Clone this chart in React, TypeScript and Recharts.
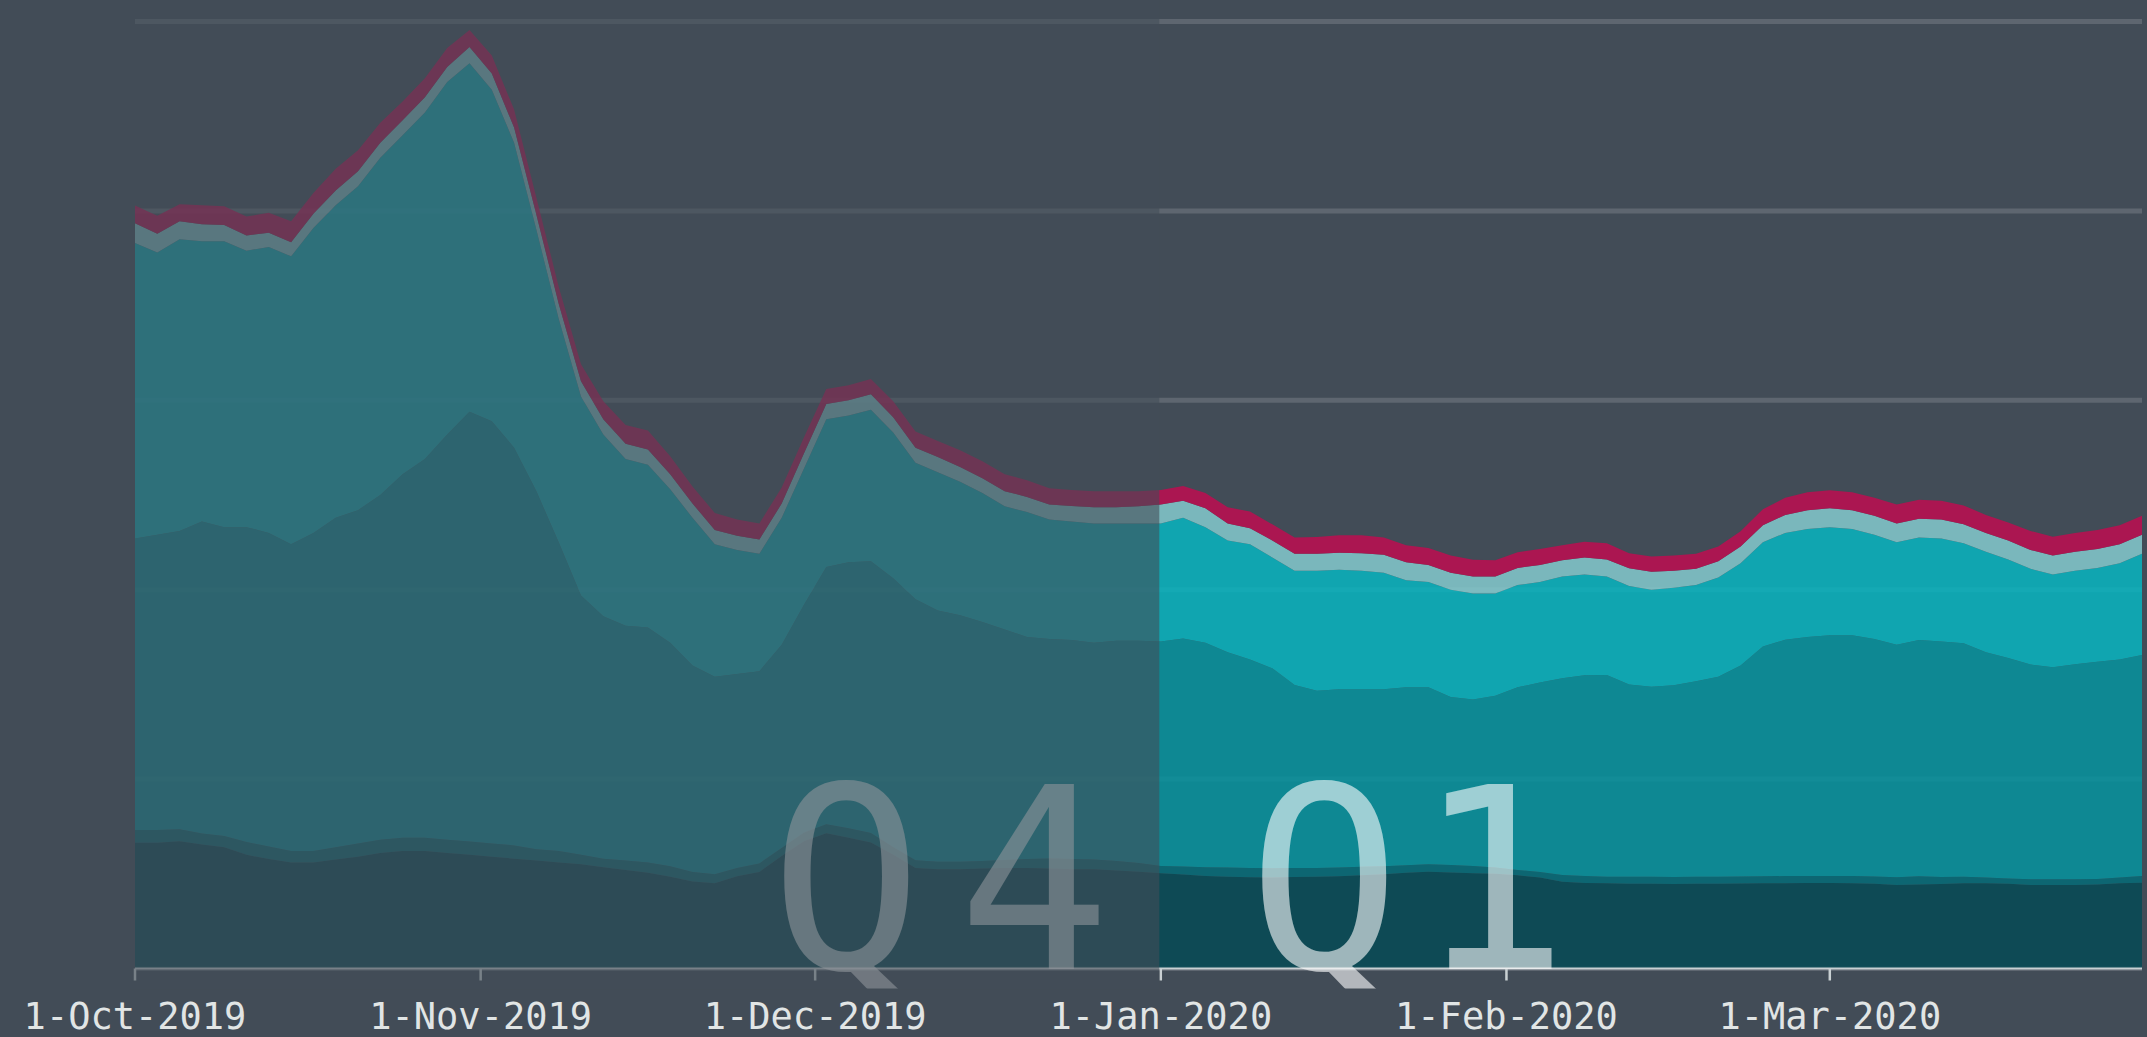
import { AreaChart, Area, XAxis, YAxis, CartesianGrid } from 'recharts';

// sample dates (every second day, 1-Oct-2019 .. 29-Mar-2020)
const dates = [
    '2019-10-01', '2019-10-03', '2019-10-05', '2019-10-07', '2019-10-09', '2019-10-11', '2019-10-13', '2019-10-15',
    '2019-10-17', '2019-10-19', '2019-10-21', '2019-10-23', '2019-10-25', '2019-10-27', '2019-10-29', '2019-10-31',
    '2019-11-02', '2019-11-04', '2019-11-06', '2019-11-08', '2019-11-10', '2019-11-12', '2019-11-14', '2019-11-16',
    '2019-11-18', '2019-11-20', '2019-11-22', '2019-11-24', '2019-11-26', '2019-11-28', '2019-11-30',
    '2019-12-02', '2019-12-04', '2019-12-06', '2019-12-08', '2019-12-10', '2019-12-12', '2019-12-14', '2019-12-16',
    '2019-12-18', '2019-12-20', '2019-12-22', '2019-12-24', '2019-12-26', '2019-12-28', '2019-12-30',
    '2020-01-01', '2020-01-03', '2020-01-05', '2020-01-07', '2020-01-09', '2020-01-11', '2020-01-13', '2020-01-15',
    '2020-01-17', '2020-01-19', '2020-01-21', '2020-01-23', '2020-01-25', '2020-01-27', '2020-01-29', '2020-01-31',
    '2020-02-02', '2020-02-04', '2020-02-06', '2020-02-08', '2020-02-10', '2020-02-12', '2020-02-14', '2020-02-16',
    '2020-02-18', '2020-02-20', '2020-02-22', '2020-02-24', '2020-02-26', '2020-02-28',
    '2020-03-01', '2020-03-03', '2020-03-05', '2020-03-07', '2020-03-09', '2020-03-11', '2020-03-13', '2020-03-15',
    '2020-03-17', '2020-03-19', '2020-03-21', '2020-03-23', '2020-03-25', '2020-03-27', '2020-03-29',
];

// stacked layers, bottom to top
const layerA = [
    0.664, 0.664, 0.672, 0.655, 0.64, 0.6, 0.578, 0.56, 0.56, 0.575, 0.59, 0.61, 0.62, 0.62, 0.61, 0.6,
    0.59, 0.58, 0.57, 0.56, 0.55, 0.535, 0.52, 0.505, 0.485, 0.46, 0.45, 0.487, 0.51, 0.594, 0.672,
    0.714, 0.69, 0.665, 0.6, 0.53, 0.524, 0.524, 0.528, 0.53, 0.531, 0.528, 0.524, 0.524, 0.518, 0.511,
    0.503, 0.496, 0.489, 0.484, 0.482, 0.481, 0.483, 0.485, 0.487, 0.492, 0.498, 0.505, 0.511, 0.507, 0.503, 0.5,
    0.492, 0.48, 0.458, 0.452, 0.45, 0.448, 0.447, 0.446, 0.447, 0.448, 0.449, 0.45, 0.45, 0.451,
    0.451, 0.45, 0.448, 0.441, 0.443, 0.446, 0.45, 0.45, 0.448, 0.441, 0.441, 0.441, 0.443, 0.45, 0.453,
];
const layerB = [
    0.067, 0.067, 0.063, 0.058, 0.06, 0.068, 0.066, 0.06, 0.06, 0.065, 0.07, 0.07, 0.07, 0.07, 0.07, 0.07,
    0.07, 0.07, 0.06, 0.06, 0.05, 0.045, 0.05, 0.055, 0.055, 0.05, 0.047, 0.043, 0.045, 0.042, 0.045,
    0.047, 0.05, 0.05, 0.04, 0.042, 0.04, 0.04, 0.04, 0.043, 0.047, 0.053, 0.054, 0.051, 0.049, 0.046,
    0.038, 0.042, 0.046, 0.049, 0.049, 0.048, 0.047, 0.046, 0.046, 0.045, 0.042, 0.04, 0.039, 0.039, 0.038, 0.033,
    0.028, 0.03, 0.036, 0.036, 0.035, 0.037, 0.037, 0.037, 0.037, 0.037, 0.037, 0.037, 0.038, 0.038,
    0.038, 0.038, 0.038, 0.041, 0.044, 0.037, 0.034, 0.03, 0.027, 0.03, 0.03, 0.03, 0.03, 0.03, 0.035,
];
const layerC = [
    1.539, 1.559, 1.575, 1.647, 1.63, 1.662, 1.656, 1.62, 1.68, 1.74, 1.76, 1.82, 1.92, 2.0, 2.14, 2.27,
    2.23, 2.1, 1.89, 1.63, 1.37, 1.28, 1.24, 1.24, 1.18, 1.09, 1.043, 1.025, 1.015, 1.074, 1.203,
    1.359, 1.405, 1.435, 1.42, 1.378, 1.326, 1.301, 1.262, 1.217, 1.172, 1.159, 1.157, 1.145, 1.163, 1.173,
    1.185, 1.205, 1.185, 1.137, 1.101, 1.056, 0.967, 0.936, 0.942, 0.938, 0.935, 0.94, 0.935, 0.887, 0.879, 0.907,
    0.965, 1.0, 1.038, 1.06, 1.065, 1.015, 1.003, 1.012, 1.033, 1.055, 1.114, 1.213, 1.248, 1.261,
    1.271, 1.272, 1.254, 1.228, 1.247, 1.243, 1.233, 1.19, 1.165, 1.134, 1.119, 1.136, 1.147, 1.152, 1.167,
];
const layerD = [
    1.56, 1.49, 1.54, 1.48, 1.51, 1.46, 1.51, 1.52, 1.61, 1.65, 1.71, 1.78, 1.79, 1.83, 1.86, 1.84,
    1.75, 1.61, 1.38, 1.18, 1.05, 0.96, 0.88, 0.86, 0.81, 0.78, 0.7, 0.655, 0.62, 0.67, 0.72,
    0.78, 0.775, 0.8, 0.77, 0.72, 0.73, 0.705, 0.68, 0.65, 0.66, 0.63, 0.625, 0.63, 0.62, 0.62,
    0.624, 0.637, 0.61, 0.59, 0.608, 0.585, 0.603, 0.633, 0.63, 0.625, 0.615, 0.565, 0.555, 0.567, 0.56, 0.54,
    0.54, 0.53, 0.538, 0.532, 0.52, 0.52, 0.513, 0.515, 0.508, 0.525, 0.54, 0.55, 0.564, 0.57,
    0.57, 0.56, 0.55, 0.54, 0.541, 0.544, 0.528, 0.53, 0.52, 0.505, 0.49, 0.493, 0.495, 0.508, 0.535,
];
const layerE = [
    0.105, 0.1, 0.095, 0.09, 0.085, 0.08, 0.075, 0.075, 0.075, 0.078, 0.08, 0.08, 0.078, 0.08, 0.08, 0.085,
    0.085, 0.08, 0.08, 0.08, 0.08, 0.08, 0.08, 0.08, 0.08, 0.075, 0.075, 0.075, 0.075, 0.075, 0.08,
    0.08, 0.08, 0.082, 0.08, 0.08, 0.08, 0.078, 0.078, 0.08, 0.08, 0.08, 0.082, 0.085, 0.085, 0.09,
    0.1, 0.09, 0.1, 0.09, 0.085, 0.09, 0.09, 0.09, 0.09, 0.093, 0.095, 0.095, 0.09, 0.09, 0.09, 0.09,
    0.09, 0.09, 0.085, 0.09, 0.09, 0.093, 0.095, 0.09, 0.085, 0.085, 0.088, 0.09, 0.095, 0.1,
    0.1, 0.1, 0.1, 0.1, 0.1, 0.1, 0.1, 0.1, 0.1, 0.1, 0.1, 0.1, 0.1, 0.1, 0.1,
];
const layerF = [
    0.093, 0.095, 0.09, 0.1, 0.1, 0.1, 0.105, 0.11, 0.11, 0.115, 0.11, 0.105, 0.1, 0.1, 0.1, 0.09,
    0.095, 0.095, 0.09, 0.09, 0.09, 0.095, 0.1, 0.1, 0.095, 0.09, 0.09, 0.085, 0.085, 0.085, 0.085,
    0.08, 0.08, 0.08, 0.085, 0.085, 0.085, 0.088, 0.09, 0.09, 0.088, 0.085, 0.085, 0.085, 0.085, 0.08,
    0.076, 0.078, 0.08, 0.085, 0.088, 0.085, 0.085, 0.088, 0.093, 0.095, 0.09, 0.09, 0.09, 0.09, 0.088, 0.085,
    0.083, 0.085, 0.08, 0.083, 0.085, 0.08, 0.08, 0.08, 0.08, 0.078, 0.08, 0.085, 0.09, 0.095,
    0.095, 0.095, 0.095, 0.1, 0.1, 0.1, 0.1, 0.095, 0.095, 0.1, 0.1, 0.1, 0.1, 0.1, 0.1,
];

const tickDates = ['2019-10-01', '2019-11-01', '2019-12-01', '2020-01-01', '2020-02-01', '2020-03-01'];
const tickLabels = ['1-Oct-2019', '1-Nov-2019', '1-Dec-2019', '1-Jan-2020', '1-Feb-2020', '1-Mar-2020'];
const quarterSplit = '2020-01-01';
const quarterLabels = ['Q4', 'Q1'];

const W = 2147;
const H = 1037;
const M = { top: 21.5, right: 5, bottom: 0, left: 135 };
const AXIS_H = 68.5;
const BG = '#424c57';
const FONT = '"DejaVu Sans Mono", monospace';

const DAY_MS = 86400000;
const t0 = Date.parse(dates[0]);
const dayOf = (s: string) => Math.round((Date.parse(s) - t0) / DAY_MS);
const lastDay = dayOf(dates[dates.length - 1]);
const tickDays = tickDates.map(dayOf);

const data = dates.map((d, i) => ({
    day: dayOf(d),
    a: layerA[i],
    b: layerB[i],
    c: layerC[i],
    d: layerD[i],
    e: layerE[i],
    f: layerF[i],
}));

const layers = [
    { key: 'a', fill: '#054a55' },
    { key: 'b', fill: '#046b77' },
    { key: 'c', fill: '#05939d' },
    { key: 'd', fill: '#07b5c0' },
    { key: 'e', fill: '#84cace' },
    { key: 'f', fill: '#bd0d50' },
];

const plotW = W - M.left - M.right;
const xOf = (day: number) => M.left + (day / lastDay) * plotW;

export default function App() {
    const splitX = xOf(dayOf(quarterSplit));
    const baseY = H - AXIS_H - M.bottom;
    return (
        <div style={{ position: 'absolute', left: 0, top: 0, width: W, height: H, background: BG, overflow: 'hidden' }}>
            <AreaChart width={W} height={H} data={data} margin={M}>
                <CartesianGrid vertical={false} stroke="#ffffff" strokeOpacity={0.15} strokeWidth={5} />
                <YAxis hide domain={[0, 5]} ticks={[1, 2, 3, 4, 5]} />
                <XAxis
                    dataKey="day"
                    type="number"
                    domain={[0, lastDay]}
                    ticks={tickDays}
                    interval={0}
                    height={AXIS_H}
                    tickFormatter={(v: number) => tickLabels[tickDays.indexOf(v)] ?? ''}
                    tick={{ fill: '#e1e5e5', fontSize: 37, fontFamily: FONT }}
                    tickSize={12}
                    tickMargin={22}
                    tickLine={{ stroke: '#c9d0d3', strokeWidth: 2.5 }}
                    axisLine={{ stroke: '#c9d0d3', strokeWidth: 2 }}
                />
                {layers.map((l) => (
                    <Area
                        key={l.key}
                        dataKey={l.key}
                        type="linear"
                        stackId="q"
                        stroke="none"
                        fill={l.fill}
                        fillOpacity={0.85}
                        dot={false}
                        activeDot={false}
                        isAnimationActive={false}
                    />
                ))}
            </AreaChart>
            <svg
                width={W}
                height={H}
                style={{ position: 'absolute', left: 0, top: 0, pointerEvents: 'none' }}
            >
                <defs>
                    <clipPath id="quarter-clip">
                        <rect x={0} y={0} width={W} height={baseY + 20} />
                    </clipPath>
                </defs>
                <g clipPath="url(#quarter-clip)" fontFamily={FONT} fontSize={254} fill="#ffffff" fillOpacity={0.6}>
                    <text x={splitX - 391} y={baseY} letterSpacing={35}>{quarterLabels[0]}</text>
                    <text x={splitX + 87} y={baseY} letterSpacing={15}>{quarterLabels[1]}</text>
                </g>
                <rect x={M.left - 6} y={0} width={splitX - 1.5 - (M.left - 6)} height={baseY + 21} fill={BG} fillOpacity={0.6} />
            </svg>
        </div>
    );
}
